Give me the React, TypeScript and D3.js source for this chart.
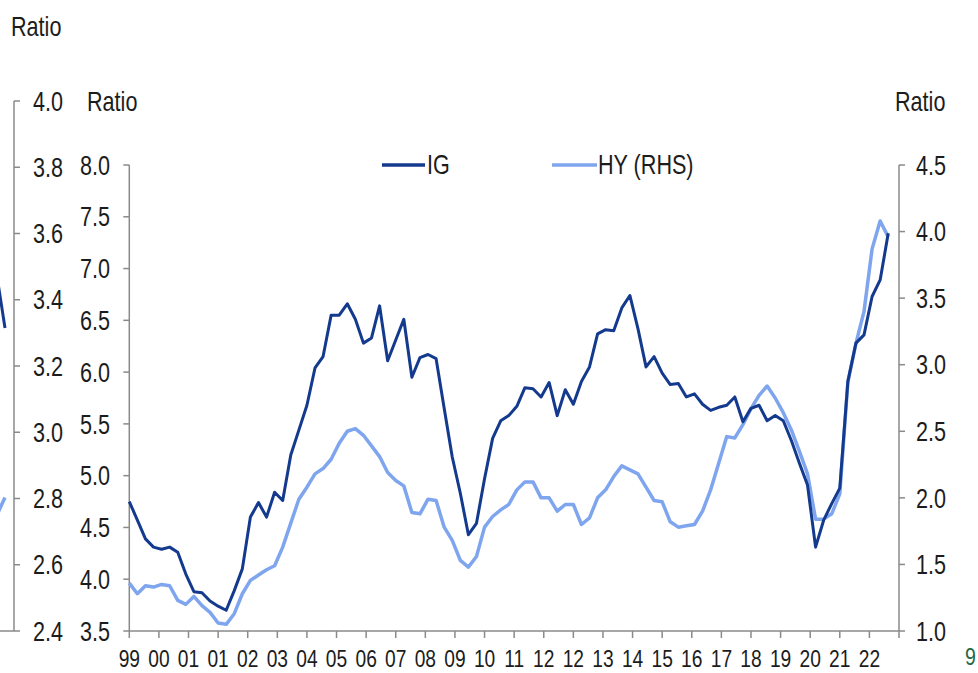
import React from "react";
import * as d3 from "d3";

// Quarterly observations starting Mar 1999 (month offset = index * 3)
const igValues = [
  4.75, 4.57, 4.39, 4.31, 4.29, 4.31, 4.26, 4.05, 3.88, 3.87,
  3.79, 3.74, 3.70, 3.89, 4.10, 4.60, 4.74, 4.60, 4.84, 4.76,
  5.20, 5.44, 5.68, 6.04, 6.15, 6.55, 6.55, 6.66, 6.51, 6.28,
  6.33, 6.64, 6.11, 6.31, 6.51, 5.95, 6.14, 6.17, 6.13, 5.65,
  5.18, 4.83, 4.43, 4.54, 4.97, 5.36, 5.53, 5.58, 5.67, 5.85,
  5.84, 5.76, 5.90, 5.58, 5.83, 5.69, 5.91, 6.05, 6.37, 6.41,
  6.40, 6.62, 6.74, 6.42, 6.05, 6.15, 5.99, 5.88, 5.89, 5.76,
  5.79, 5.69, 5.63, 5.66, 5.68, 5.76, 5.52, 5.65, 5.68, 5.53,
  5.58, 5.53, 5.34, 5.12, 4.91, 4.31, 4.57, 4.73, 4.88, 5.91,
  6.28, 6.36, 6.73, 6.89, 7.34,
];

const hyValues = [
  1.36, 1.28, 1.34, 1.33, 1.35, 1.34, 1.23, 1.20, 1.26, 1.19,
  1.14, 1.06, 1.05, 1.13, 1.28, 1.38, 1.42, 1.46, 1.49, 1.63,
  1.81, 1.99, 2.08, 2.18, 2.22, 2.29, 2.41, 2.50, 2.52, 2.47,
  2.39, 2.31, 2.19, 2.13, 2.09, 1.89, 1.88, 1.99, 1.98, 1.78,
  1.68, 1.53, 1.48, 1.56, 1.78, 1.86, 1.91, 1.95, 2.06, 2.12,
  2.12, 2.00, 2.00, 1.90, 1.95, 1.95, 1.80, 1.85, 2.00, 2.06,
  2.16, 2.24, 2.21, 2.18, 2.08, 1.98, 1.97, 1.82, 1.78, 1.79,
  1.80, 1.90, 2.06, 2.26, 2.46, 2.45, 2.55, 2.67, 2.77, 2.84,
  2.75, 2.64, 2.51, 2.35, 2.18, 1.84, 1.84, 1.88, 2.03, 2.87,
  3.16, 3.40, 3.87, 4.08, 3.96,
];

// x-axis labels, one every 11 months starting Mar 1999
const xTickLabels = [
  "99", "00", "01", "01", "02", "03", "04", "05", "06", "07", "08", "09", "10",
  "11", "12", "12", "13", "14", "15", "16", "17", "18", "19", "20", "21", "22",
];

const leftTicks = [3.5, 4.0, 4.5, 5.0, 5.5, 6.0, 6.5, 7.0, 7.5, 8.0];
const rightTicks = [1.0, 1.5, 2.0, 2.5, 3.0, 3.5, 4.0, 4.5];
const farLeftTicks = [2.4, 2.6, 2.8, 3.0, 3.2, 3.4, 3.6, 3.8, 4.0];

// remnants of the neighbouring (cropped) chart, on the far-left axis
const prevIG = [3.47, 3.315];
const prevHY = [2.751, 2.803];

const IG_COLOR = "#143a8e";
const HY_COLOR = "#7ea5ee";
const AXIS_COLOR = "#8a8a8a";
const TEXT_COLOR = "#1c1c1c";
const FONT = "'Liberation Sans', Arial, sans-serif";

const NText = ({ x, y, children, size = 27, anchor = "start", sx = 0.8, fill = TEXT_COLOR }: any) => (
  <text
    transform={`translate(${x},${y + size * 0.36}) scale(${sx},1)`}
    fontSize={size}
    fontFamily={FONT}
    textAnchor={anchor}
    fill={fill}
  >
    {children}
  </text>
);

export default function App() {
  const x0 = 129.3;
  const x1 = 899;
  const yBottom = 631;
  const yTop = 165;

  const x = d3.scaleLinear().domain([0, 286]).range([x0, x1]);
  const yL = d3.scaleLinear().domain([3.5, 8.0]).range([yBottom, yTop]);
  const yR = d3.scaleLinear().domain([1.0, 4.5]).range([yBottom, yTop]);
  const yF = d3.scaleLinear().domain([2.4, 4.0]).range([yBottom, 101]);
  const xPrev = d3.scaleLinear().domain([0, 1]).range([-3, 5]);

  const igLine = d3
    .line<number>()
    .x((_, i) => x(i * 3))
    .y((d) => yL(d));
  const hyLine = d3
    .line<number>()
    .x((_, i) => x(i * 3))
    .y((d) => yR(d));
  const prevLine = d3
    .line<number>()
    .x((_, i) => xPrev(i))
    .y((d) => yF(d));

  const xTicks = d3.range(0, xTickLabels.length + 1).map((k) => k * 11);

  return (
    <svg
      width={978}
      height={673}
      style={{ position: "absolute", left: 0, top: 0, background: "#fff" }}
    >
      <rect x={0} y={0} width={978} height={673} fill="#fff" />

      {/* Far-left axis (neighbouring chart) */}
      <NText x={11} y={26}>Ratio</NText>
      <line x1={14} x2={14} y1={yF(4.0)} y2={yF(2.4)} stroke={AXIS_COLOR} strokeWidth={1.5} />
      {farLeftTicks.map((t) => (
        <g key={"f" + t}>
          <line
            x1={t === 2.4 ? 0 : 14}
            x2={20}
            y1={yF(t)}
            y2={yF(t)}
            stroke={AXIS_COLOR}
            strokeWidth={1.5}
          />
          <NText x={63} y={yF(t)} anchor="end">{t.toFixed(1)}</NText>
        </g>
      ))}
      <path d={prevLine(prevIG) || ""} fill="none" stroke={IG_COLOR} strokeWidth={3} />
      <path d={prevLine(prevHY) || ""} fill="none" stroke={HY_COLOR} strokeWidth={3.5} />

      {/* Axis titles */}
      <NText x={87} y={101}>Ratio</NText>
      <NText x={895} y={101}>Ratio</NText>

      {/* Main left axis */}
      <line x1={x0} x2={x0} y1={yTop} y2={yBottom} stroke={AXIS_COLOR} strokeWidth={1.5} />
      {leftTicks.map((t) => (
        <g key={"l" + t}>
          <line x1={x0 - 6} x2={x0} y1={yL(t)} y2={yL(t)} stroke={AXIS_COLOR} strokeWidth={1.5} />
          <NText x={110} y={yL(t)} anchor="end">{t.toFixed(1)}</NText>
        </g>
      ))}

      {/* Right axis */}
      <line x1={x1} x2={x1} y1={yTop} y2={yBottom} stroke={AXIS_COLOR} strokeWidth={1.5} />
      {rightTicks.map((t) => (
        <g key={"r" + t}>
          <line x1={x1} x2={x1 + 6} y1={yR(t)} y2={yR(t)} stroke={AXIS_COLOR} strokeWidth={1.5} />
          <NText x={916} y={yR(t)}>{t.toFixed(1)}</NText>
        </g>
      ))}

      {/* X axis */}
      <line x1={x0} x2={x1} y1={yBottom} y2={yBottom} stroke={AXIS_COLOR} strokeWidth={1.5} />
      {xTicks.map((m, k) => (
        <g key={"x" + k}>
          <line x1={x(m)} x2={x(m)} y1={yBottom} y2={yBottom + 7} stroke={AXIS_COLOR} strokeWidth={1.5} />
          {k < xTickLabels.length && (
            <NText x={x(m)} y={658} anchor="middle" size={24} sx={0.8}>
              {xTickLabels[k]}
            </NText>
          )}
        </g>
      ))}

      {/* Series */}
      <path d={hyLine(hyValues) || ""} fill="none" stroke={HY_COLOR} strokeWidth={3.5} strokeLinejoin="round" />
      <path d={igLine(igValues) || ""} fill="none" stroke={IG_COLOR} strokeWidth={3} strokeLinejoin="round" />

      {/* Legend */}
      <line x1={382} x2={425} y1={165} y2={165} stroke={IG_COLOR} strokeWidth={3.5} />
      <NText x={427} y={164}>IG</NText>
      <line x1={552} x2={597} y1={165} y2={165} stroke={HY_COLOR} strokeWidth={3.5} />
      <NText x={598} y={164}>HY (RHS)</NText>

      {/* Page number */}
      <NText x={965} y={657} size={23} sx={0.85} fill="#1f6a44">9</NText>
    </svg>
  );
}
